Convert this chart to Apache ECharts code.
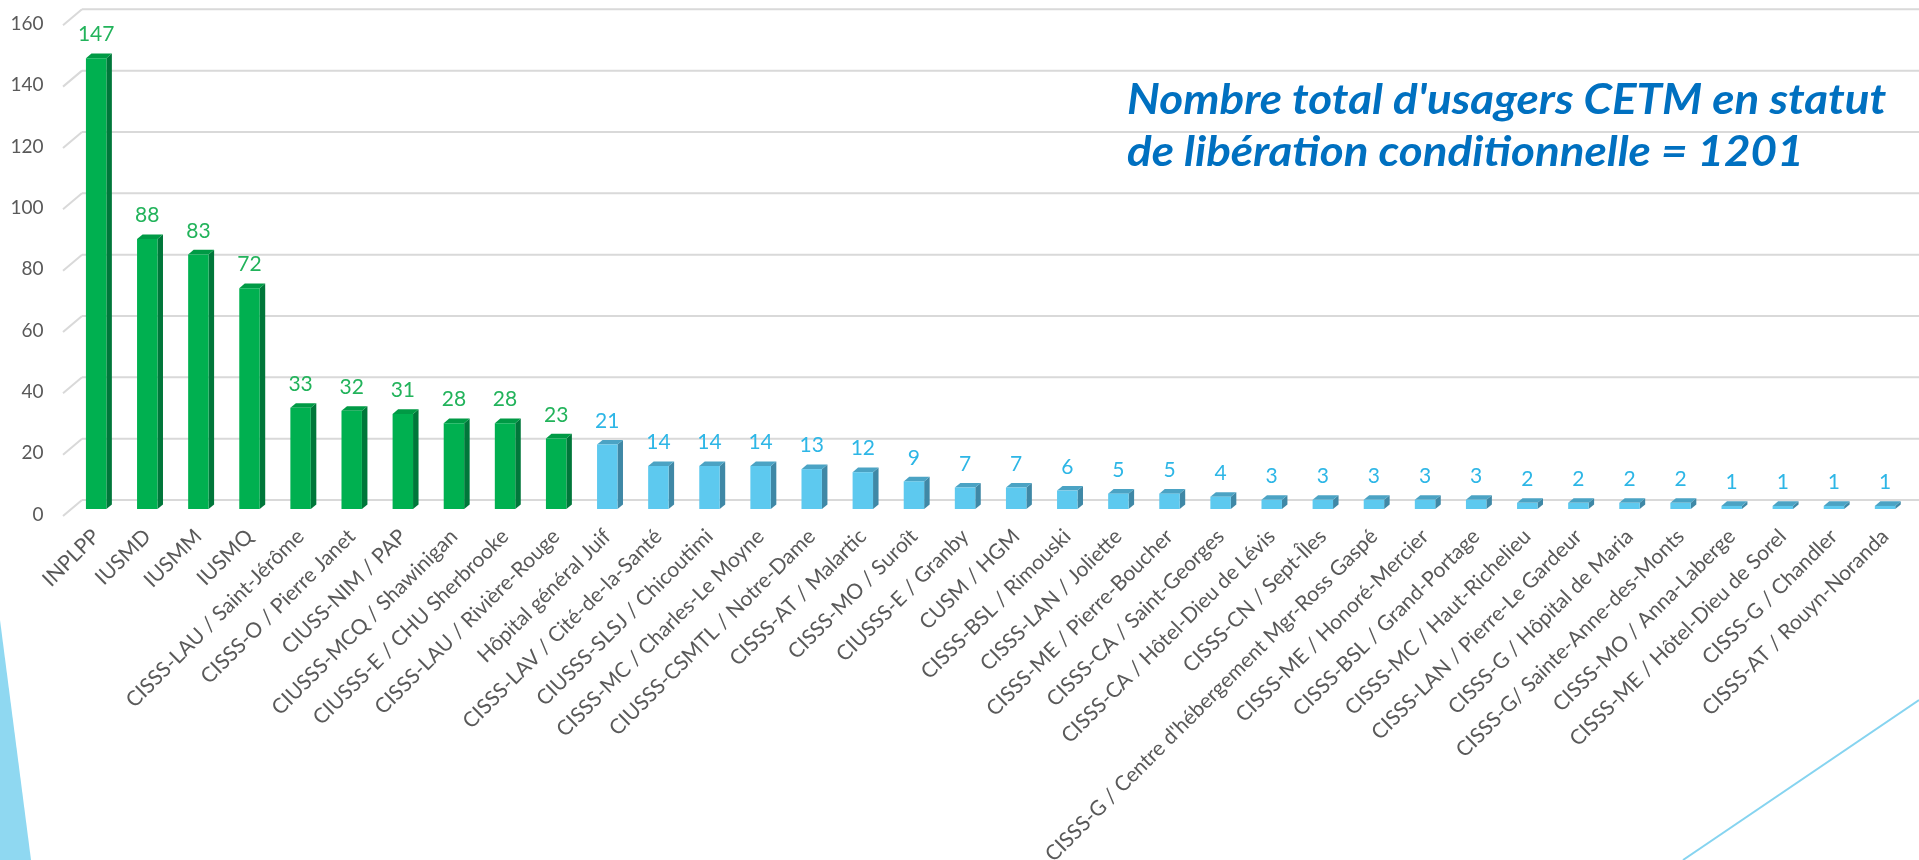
<!DOCTYPE html>
<html>
<head>
<meta charset="utf-8">
<script src="https://cdn.jsdelivr.net/npm/echarts@6/dist/echarts.min.js"></script>
<style>
html,body{margin:0;padding:0;background:#ffffff;}
#chart{width:1919px;height:860px;}
</style>
</head>
<body>
<div id="chart"></div>
<script>
// ---- Data ----
const categories = [
  "INPLPP", "IUSMD", "IUSMM", "IUSMQ",
  "CISSS-LAU / Saint-Jérôme", "CISSS-O / Pierre Janet", "CIUSS-NIM / PAP",
  "CIUSSS-MCQ / Shawinigan", "CIUSSS-E / CHU Sherbrooke", "CISSS-LAU / Rivière-Rouge",
  "Hôpital général Juif", "CISSS-LAV / Cité-de-la-Santé", "CIUSSS-SLSJ / Chicoutimi",
  "CISSS-MC / Charles-Le Moyne", "CIUSSS-CSMTL / Notre-Dame", "CISSS-AT / Malartic",
  "CISSS-MO / Suroît", "CIUSSS-E / Granby", "CUSM / HGM", "CISSS-BSL / Rimouski",
  "CISSS-LAN / Joliette", "CISSS-ME / Pierre-Boucher", "CISSS-CA / Saint-Georges",
  "CISSS-CA / Hôtel-Dieu de Lévis", "CISSS-CN / Sept-Îles",
  "CISSS-G / Centre d'hébergement Mgr-Ross Gaspé", "CISSS-ME / Honoré-Mercier",
  "CISSS-BSL / Grand-Portage", "CISSS-MC / Haut-Richelieu", "CISSS-LAN / Pierre-Le Gardeur",
  "CISSS-G / Hôpital de Maria", "CISSS-G/ Sainte-Anne-des-Monts", "CISSS-MO / Anna-Laberge",
  "CISSS-ME / Hôtel-Dieu de Sorel", "CISSS-G / Chandler", "CISSS-AT / Rouyn-Noranda"
];
const values = [147, 88, 83, 72, 33, 32, 31, 28, 28, 23, 21, 14, 14, 14, 13, 12, 9, 7, 7, 6,
                5, 5, 4, 3, 3, 3, 3, 3, 2, 2, 2, 2, 1, 1, 1, 1];
const greenCount = 10;
const yTicks = [0, 20, 40, 60, 80, 100, 120, 140, 160];
const titleLines = ["Nombre total d'usagers CETM en statut", "de libération conditionnelle = 1201"];

// ---- Styles ----
const WALL_DX = 11.4, WALL_DY = 9;      // back wall offset from bar front plane
const FLOOR_DX = 19, FLOOR_DY = 16;     // floor diagonal
const BAR_DX = 5.5, BAR_DY = 4.6;       // bar depth
const palette = {
  green: {front: '#00B050', side: '#00773A', top: '#009A45', label: '#22B35B'},
  blue:  {front: '#5DC9EF', side: '#3F88A6', top: '#4BA3C4', label: '#2DB6E6'}
};
const FONT = 'Lato, "Open Sans", sans-serif';

function gridItem(params, api) {
  const cs = params.coordSys;
  const p = api.coord([0, api.value(1)]);
  const yb = p[1] - WALL_DY;
  const xb = cs.x + WALL_DX;
  return {
    type: 'group',
    children: [
      {type: 'line', shape: {x1: xb, y1: yb, x2: 1919, y2: yb},
       style: {stroke: '#D9D9D9', lineWidth: 2}},
      {type: 'line', shape: {x1: xb, y1: yb, x2: xb - FLOOR_DX, y2: yb + FLOOR_DY},
       style: {stroke: '#D9D9D9', lineWidth: 2}}
    ]
  };
}

function barItem(params, api) {
  const i = api.value(0), v = api.value(1);
  const top = api.coord([i, v]);
  const base = api.coord([i, 0]);
  const band = api.size([1, 0])[0];
  const w = band * 0.40;
  const xl = top[0] - w / 2, xr = top[0] + w / 2;
  const c = i < greenCount ? palette.green : palette.blue;
  return {
    type: 'group',
    children: [
      {type: 'polygon', shape: {points: [[xr, top[1]], [xr + BAR_DX, top[1] - BAR_DY],
        [xr + BAR_DX, base[1] - BAR_DY], [xr, base[1]]]}, style: {fill: c.side}},
      {type: 'polygon', shape: {points: [[xl, top[1]], [xl + BAR_DX, top[1] - BAR_DY],
        [xr + BAR_DX, top[1] - BAR_DY], [xr, top[1]]]}, style: {fill: c.top}},
      {type: 'rect', shape: {x: xl, y: top[1], width: w, height: base[1] - top[1]},
       style: {fill: c.front}},
      {type: 'text', x: top[0], y: top[1] - 13,
       style: {text: String(v), fill: c.label, fontSize: 21, fontFamily: FONT,
               align: 'center', verticalAlign: 'bottom', textAlign: 'center', textVerticalAlign: 'bottom'}}
    ]
  };
}

const chart = echarts.init(document.getElementById('chart'), null, {renderer: 'canvas'});
chart.setOption({
  backgroundColor: '#ffffff',
  animation: false,
  grid: {left: 70.6, right: 8.4, top: 18.3, bottom: 351, containLabel: false, outerBoundsMode: 'none'},
  xAxis: {
    type: 'category',
    data: categories,
    axisLine: {show: false},
    axisTick: {show: false},
    axisLabel: {interval: 0, rotate: 45, margin: 24, color: '#595959', fontSize: 21, fontFamily: FONT}
  },
  yAxis: {
    type: 'value', min: 0, max: 160, interval: 20,
    axisLine: {show: false}, axisTick: {show: false}, splitLine: {show: false},
    axisLabel: {margin: 27, color: '#595959', fontSize: 19, fontFamily: FONT,
                verticalAlign: 'top', lineHeight: 11}
  },
  series: [
    {type: 'custom', renderItem: gridItem, z: 1, silent: true,
     data: yTicks.map(v => [0, v])},
    {type: 'custom', renderItem: barItem, z: 5,
     data: values.map((v, i) => [i, v])}
  ],
  graphic: [
    {type: 'polygon', shape: {points: [[0, 620], [31, 860], [0, 860]]},
     style: {fill: '#8FD8F1'}, z: 0},
    {type: 'line', shape: {x1: 1683, y1: 860, x2: 1919, y2: 700},
     style: {stroke: '#86D4F0', lineWidth: 2}, z: 0},
    {type: 'text', x: 1127, y: 74, scaleX: 1.09, z: 10,
     style: {text: titleLines.join('\n'), fill: '#0070C0', fontFamily: FONT,
             fontWeight: 'bold', fontStyle: 'italic', fontSize: 42, lineHeight: 52,
             align: 'left', verticalAlign: 'top'}}
  ]
});
</script>
</body>
</html>
